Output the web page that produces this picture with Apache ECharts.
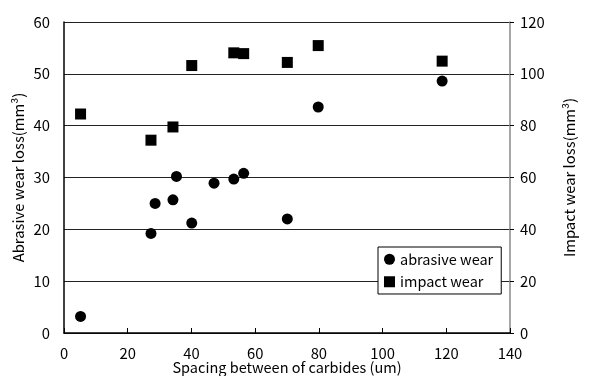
<!DOCTYPE html>
<html><head><meta charset="utf-8">
<script src="https://cdn.jsdelivr.net/npm/echarts@6/dist/echarts.min.js"></script>
<style>html,body{margin:0;padding:0;background:#fff}#c{width:604px;height:376px}</style>
</head><body><div id="c"></div>
<script>
const abrasiveX = [5.2, 27.3, 28.6, 34.2, 35.3, 40.1, 47.1, 53.3, 56.4, 70.1, 79.8, 118.7];
const abrasiveY = [3.2, 19.2, 25.0, 25.7, 30.2, 21.2, 28.9, 29.7, 30.8, 22.0, 43.6, 48.6];
const impactX = [5.2, 27.3, 34.2, 40.1, 53.3, 56.4, 70.1, 79.8, 118.7];
const impactY = [84.5, 74.4, 79.5, 103.2, 108.1, 107.8, 104.4, 110.9, 104.9];
const xTitle = 'Spacing between of carbides (um)';
const leftTitle = 'Abrasive wear loss(mm³)';
const rightTitle = 'Impact wear loss(mm³)';
const seriesNames = ['abrasive wear', 'impact wear'];

const FONT = '"Noto Sans CJK JP", "Liberation Sans", sans-serif';
const FS = 14.8;
const chart = echarts.init(document.getElementById('c'));
chart.setOption({
  animation: false,
  textStyle: {fontFamily: FONT},
  grid: {left: 64, right: 94, top: 22, bottom: 43, containLabel: false, outerBoundsMode: 'none'},
  legend: {
    left: 378, top: 247, orient: 'vertical', itemWidth: 11, itemHeight: 11, itemGap: 8,
    padding: [5, 8, 5, 6],
    borderColor: '#000', borderWidth: 1, backgroundColor: '#fff',
    textStyle: {fontFamily: FONT, fontSize: 14.5, color: '#000'},
    data: [{name: seriesNames[0], icon: 'circle'}, {name: seriesNames[1], icon: 'rect'}]
  },
  xAxis: {
    type: 'value', min: 0, max: 140, interval: 20,
    name: xTitle, nameLocation: 'middle', nameGap: 27, nameMoveOverlap: false,
    nameTextStyle: {fontFamily: FONT, fontSize: 14.5, color: '#000', lineHeight: 15},
    axisLine: {lineStyle: {color: '#000', width: 1.5}},
    axisTick: {inside: true, length: 5, lineStyle: {color: '#000'}},
    axisLabel: {fontFamily: FONT, fontSize: FS, color: '#000', margin: 13},
    splitLine: {show: false}
  },
  yAxis: [{
    type: 'value', min: 0, max: 60, interval: 10,
    name: leftTitle, nameLocation: 'middle', nameGap: 38, nameMoveOverlap: false,
    nameTextStyle: {fontFamily: FONT, fontSize: FS, color: '#000'},
    axisLine: {show: true, lineStyle: {color: '#000', width: 1.5}},
    axisTick: {show: false},
    axisLabel: {fontFamily: FONT, fontSize: FS, color: '#000', margin: 14},
    splitLine: {show: true, lineStyle: {color: '#222', width: 1}}
  }, {
    type: 'value', min: 0, max: 120, interval: 20, position: 'right',
    name: rightTitle, nameLocation: 'middle', nameGap: 52, nameRotate: 90, nameMoveOverlap: false,
    nameTextStyle: {fontFamily: FONT, fontSize: FS, color: '#000'},
    axisLine: {show: true, lineStyle: {color: '#888', width: 1.5}},
    axisTick: {show: true, length: 4, lineStyle: {color: '#000'}},
    axisLabel: {fontFamily: FONT, fontSize: FS, color: '#000', margin: 10},
    splitLine: {show: false}
  }],
  series: [{
    name: seriesNames[0], type: 'scatter', yAxisIndex: 0, symbol: 'circle', symbolSize: 11,
    itemStyle: {color: '#000', opacity: 1},
    data: abrasiveX.map((x, i) => [x, abrasiveY[i]])
  }, {
    name: seriesNames[1], type: 'scatter', yAxisIndex: 1, symbol: 'rect', symbolSize: 11,
    itemStyle: {color: '#000', opacity: 1},
    data: impactX.map((x, i) => [x, impactY[i]])
  }]
});
</script></body></html>
